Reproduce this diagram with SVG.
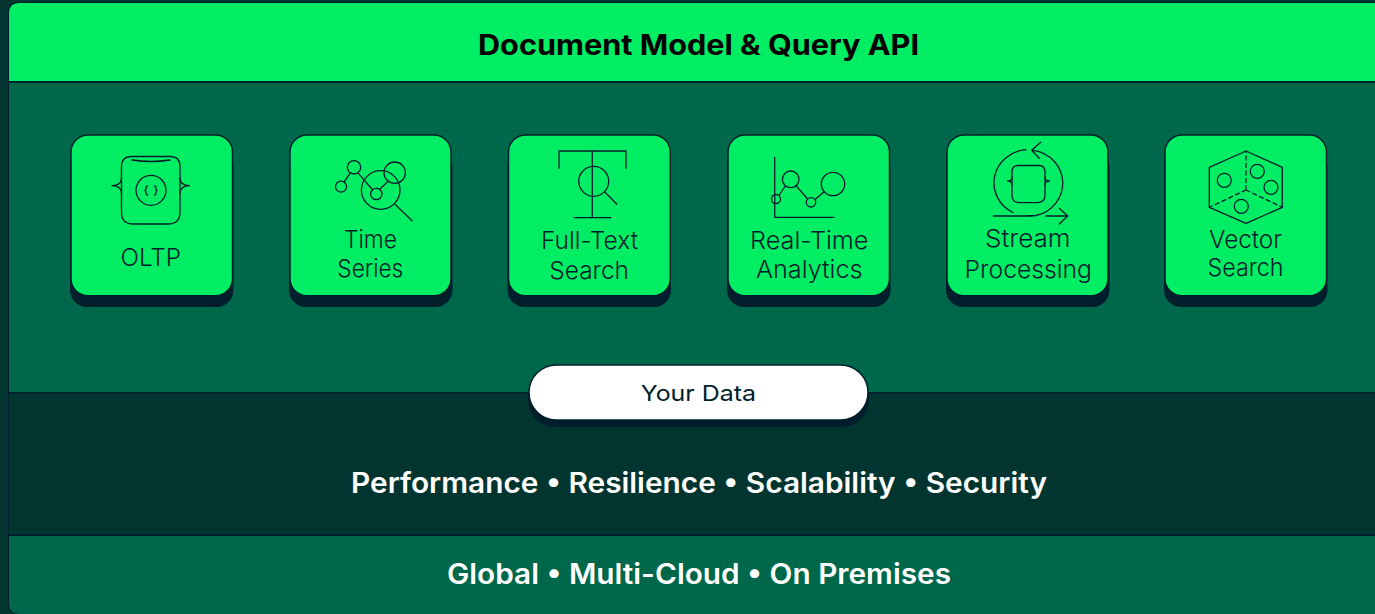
<svg xmlns="http://www.w3.org/2000/svg" width="1375" height="614" viewBox="0 0 1375 614">
<style>
text{font-family:"Inter","Liberation Sans",sans-serif;fill:#001E2B}
.l{font-size:24px;font-weight:300;letter-spacing:0}
.h{font-size:28px;font-weight:700;fill:#000}
.w{font-size:28px;font-weight:600;fill:#fff}
.shadow{fill:#001E2B}
.card{fill:#00ED64;stroke:#001E2B;stroke-width:1.5}
.i{fill:none;stroke:#001E2B;stroke-width:1.3;stroke-linecap:round;stroke-linejoin:round}
.d{stroke-dasharray:4 3.5}
</style>
<rect width="1375" height="614" fill="#023430"/>
<g id="panels">
<path d="M1375 2H18Q8 2 8 12V604Q8 614 18 614H1375Z" fill="#001E2B"/>
<path d="M1375 3H19Q9 3 9 13V81H1375Z" fill="#00ED64"/>
<rect x="9" y="83" width="1366" height="309" fill="#00684A"/>
<rect x="9" y="393.500" width="1366" height="140.500" fill="#023430"/>
<path d="M9 536H1375V614H20Q9 614 9 603Z" fill="#00684A"/>
</g>
<g id="header"><text class="h" x="478" y="55" textLength="441" lengthAdjust="spacingAndGlyphs">Document Model &amp; Query API</text></g>
<g id="oltp">
<rect class="shadow" x="70" y="150" width="163.500" height="157" rx="17"/>
<rect class="card" x="71" y="135" width="161.500" height="160.700" rx="17"/>
<path class="i" d="M132 156.500H170Q180 156.500 180 166.500V212Q180 224 168 224H133Q121.500 224 121.500 212V166.500Q121.500 156.500 132 156.500Z"/>
<path class="i" d="M132 160Q151 163 170 160"/>
<circle class="i" cx="151" cy="190.300" r="15"/>
<path class="i" d="M121.500 178Q121.500 185.700 112 185.700Q121.500 185.700 121.500 194M180 178Q180 185.700 189.500 185.700Q180 185.700 180 194"/>
<path class="i" d="M147.500 186Q146 186 146 188V189.500L145 190.500L146 191.500V193Q146 195 147.500 195M154.500 186Q156 186 156 188V189.500L157 190.500L156 191.500V193Q156 195 154.500 195"/>
<text class="l" x="120.500" y="266" textLength="60.500" lengthAdjust="spacingAndGlyphs">OLTP</text>
</g>
<g id="time-series">
<rect class="shadow" x="289" y="150" width="163.500" height="157" rx="17"/>
<rect class="card" x="290" y="135" width="161" height="160.700" rx="17"/>
<circle class="i" cx="354" cy="167.300" r="6.700"/><circle class="i" cx="341" cy="186.700" r="5.500"/><circle class="i" cx="376.300" cy="194" r="5.700"/><circle class="i" cx="394.700" cy="172.700" r="10.700"/><circle class="i" cx="380.700" cy="190" r="19.300"/>
<path class="i" d="M395 204.300L412 220.700M344.300 181.700L350 173.300M358.300 173.300L372.700 190M380 189L388.300 181"/>
<text class="l" x="344" y="248" textLength="53" lengthAdjust="spacingAndGlyphs">Time</text>
<text class="l" x="337.300" y="277" textLength="66" lengthAdjust="spacingAndGlyphs">Series</text>
</g>
<g id="full-text-search">
<rect class="shadow" x="507.500" y="150" width="163.500" height="157" rx="17"/>
<rect class="card" x="508.500" y="135" width="161.800" height="160.700" rx="17"/>
<path class="i" d="M559 168.300V151H626V168.300M592.300 151V217.700M574 217.700H610.700M605 192.300L616.700 204"/>
<circle class="i" cx="593.700" cy="181.300" r="15"/>
<text class="l" x="541" y="249" textLength="97" lengthAdjust="spacingAndGlyphs">Full-Text</text>
<text class="l" x="549.300" y="279" textLength="79.700" lengthAdjust="spacingAndGlyphs">Search</text>
</g>
<g id="real-time-analytics">
<rect class="shadow" x="727" y="150" width="163.500" height="157" rx="17"/>
<rect class="card" x="728" y="135" width="161.500" height="160.700" rx="17"/>
<path class="i" d="M774.700 157.300V217.300H834M779.300 195L785.300 186M796.300 186L807.700 199M815.700 199L824 191.700"/>
<circle class="i" cx="776" cy="199" r="4.500"/><circle class="i" cx="790.700" cy="179.300" r="8.300"/><circle class="i" cx="811" cy="202.300" r="4.700"/><circle class="i" cx="833" cy="184" r="11.700"/>
<text class="l" x="750" y="248.500" textLength="118.500" lengthAdjust="spacingAndGlyphs">Real-Time</text>
<text class="l" x="756" y="277.700" textLength="106.500" lengthAdjust="spacingAndGlyphs">Analytics</text>
</g>
<g id="stream-processing">
<rect class="shadow" x="946" y="150" width="163.500" height="157" rx="17"/>
<rect class="card" x="947" y="135" width="161" height="160.700" rx="17"/>
<path class="i" d="M1026 149.700A34.500 33.200 0 0 0 1013 212.500M1033.300 150.300A34.500 33.200 0 0 1 1036 215.500Q1030 216 1024 216H993.300M1046 216H1067.700M1059.300 208.300L1067.700 216L1059.300 224M1040.700 142.300L1031.700 150.300L1039.300 158.300"/>
<path class="i" d="M1018 165.500H1039Q1045 165.500 1045 172V195Q1045 202.700 1037 202.700H1020Q1012 202.700 1012 195V172Q1012 165.500 1018 165.500Z"/>
<path class="i" d="M1012 177Q1012 181 1007.500 181Q1012 181 1012 185M1045 177Q1045 181 1049.500 181Q1045 181 1045 185"/>
<text class="l" x="985" y="247.300" textLength="85.500" lengthAdjust="spacingAndGlyphs">Stream</text>
<text class="l" x="964.500" y="277.700" textLength="127.500" lengthAdjust="spacingAndGlyphs">Processing</text>
</g>
<g id="vector-search">
<rect class="shadow" x="1164" y="150" width="163.500" height="157" rx="17"/>
<rect class="card" x="1165" y="135" width="161.500" height="160.700" rx="17"/>
<path class="i" d="M1246 151L1282.300 167.300V207.300L1246 223.300L1209.300 207.300V167.300Z"/>
<path class="i d" d="M1246 190V151M1246 190L1282.300 207.300M1246 190L1209.300 207.300"/>
<circle class="i" cx="1224.300" cy="180.300" r="7"/><circle class="i" cx="1257.300" cy="171.300" r="7"/><circle class="i" cx="1271" cy="187.300" r="7"/><circle class="i" cx="1241.300" cy="206.300" r="7"/>
<text class="l" x="1209" y="247.700" textLength="73" lengthAdjust="spacingAndGlyphs">Vector</text>
<text class="l" x="1207.500" y="275.700" textLength="76" lengthAdjust="spacingAndGlyphs">Search</text>
</g>
<g id="your-data">
<rect class="shadow" x="528" y="372" width="341" height="55" rx="27"/>
<rect x="529" y="365" width="339" height="55" rx="27.500" fill="#fff" stroke="#001E2B" stroke-width="1.500"/>
<text x="640.700" y="400.700" font-size="22" font-weight="400" textLength="115.300" lengthAdjust="spacingAndGlyphs">Your Data</text>
</g>
<g id="qualities"><text class="w" x="351" y="493" textLength="696" lengthAdjust="spacingAndGlyphs">Performance • Resilience • Scalability • Security</text></g>
<g id="deployment"><text class="w" x="447" y="584" textLength="504" lengthAdjust="spacingAndGlyphs">Global • Multi-Cloud • On Premises</text></g>
</svg>
